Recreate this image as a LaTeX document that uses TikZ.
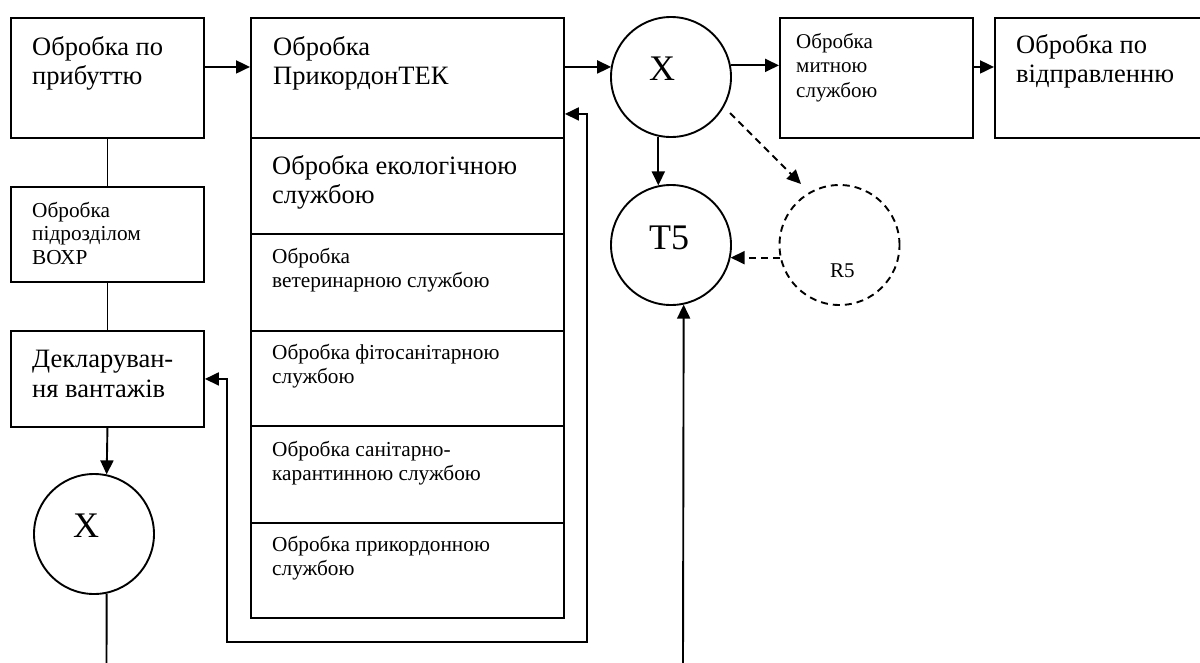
\documentclass[tikz,border=0pt]{standalone}
\usepackage{fontspec}
\setmainfont{Liberation Serif}
\usetikzlibrary{arrows.meta,calc}
\begin{document}
\begin{tikzpicture}[x=1pt,y=-1pt,
  box/.style={draw, line width=1.9pt, rectangle, inner sep=0pt, anchor=north west},
  circ/.style={draw, line width=1.9pt, circle, minimum size=120pt, inner sep=0pt},
  big/.style={anchor=base west, inner sep=0pt, align=left, font=\fontsize{26.5}{29}\selectfont},
  small/.style={anchor=base west, inner sep=0pt, align=left, font=\fontsize{21.3}{24}\selectfont},
  sym/.style={anchor=base west, inner sep=0pt, font=\fontsize{36}{40}\selectfont},
  plain/.style={line width=1.9pt},
  conn/.style={line width=1.9pt, -{Triangle[length=14pt,width=13pt]}},
  dconn/.style={line width=1.9pt, dash pattern=on 7pt off 5pt, -{Triangle[length=14pt,width=13pt]}},
  connboth/.style={line width=1.9pt, {Triangle[length=14pt,width=13pt]}-{Triangle[length=14pt,width=13pt]}},
]
\useasboundingbox (0,0) rectangle (1200,662);

% boxes
\node[box, minimum width=193pt, minimum height=120pt] (b1) at (10,17) {};
\node[box, minimum width=193pt, minimum height=95pt] (vokhr) at (10,186) {};
\node[box, minimum width=193pt, minimum height=96pt] (dekl) at (10,330) {};
\node[box, minimum width=313pt, minimum height=120pt] (prik) at (250,17) {};
\node[box, minimum width=313pt, minimum height=96pt] (ekol) at (250,137) {};
\node[box, minimum width=313pt, minimum height=97pt] (veter) at (250,233) {};
\node[box, minimum width=313pt, minimum height=95pt] (fito) at (250,330) {};
\node[box, minimum width=313pt, minimum height=97pt] (sanit) at (250,425) {};
\node[box, minimum width=313pt, minimum height=95pt] (prykord) at (250,522) {};
\node[box, minimum width=193pt, minimum height=120pt] (mytna) at (779,17) {};
\node[box, minimum width=216pt, minimum height=120pt] (vidpr) at (994,17) {};

% circles
\node[circ] (X2) at (671,77) {};
\node[circ] (T5) at (671,245) {};
\node[circ, dash pattern=on 7pt off 5pt] (R5) at (839.5,245) {};
\node[circ] (X3) at (94,534) {};

% texts (positions = baseline of last line)
\node[big] (tb1) at (32,84) {Обробка по\\прибуттю};
\node[big] (tprik) at (273,84) {Обробка\\ПрикордонТЕК};
\node[big] (tekol) at (272,203) {Обробка екологічною\\службою};
\node[small] (tveter) at (272,287) {Обробка\\ветеринарною службою};
\node[small] (tfito) at (272,383) {Обробка фітосанітарною\\службою};
\node[small] (tsanit) at (272,480) {Обробка санітарно-\\карантинною службою};
\node[small] (tprykord) at (272,575) {Обробка прикордонною\\службою};
\node[small, font=\fontsize{21.3}{23.5}\selectfont] (tvokhr) at (32,264) {Обробка\\підрозділом\\ВОХР};
\node[big, font=\fontsize{26.5}{30}\selectfont] (tdekl) at (32,397) {Декларуван-\\ня вантажів};
\node[small, font=\fontsize{21}{24.5}\selectfont] (tmytna) at (796,97) {Обробка\\митною\\службою};
\node[big] (tvidpr) at (1016,82) {Обробка по\\відправленню};
\node[sym] (tX2) at (649,80) {X};
\node[sym] (tT5) at (649,249) {T5};
\node[sym] (tX3) at (73,537) {X};
\node[anchor=base west, inner sep=0pt, font=\fontsize{21}{24}\selectfont] (tR5) at (830,277) {R5};

% free ends
\coordinate (bot1) at (106.5,665);
\coordinate (bot2) at (683,665);
\coordinate (dstart) at (730,113);
\coordinate (dend) at (801,184);
\coordinate (loopBL) at (227,642);
\coordinate (loopBR) at (587,642);

% connectors
\draw[plain] (b1.south) -- (vokhr.north);
\draw[plain] (vokhr.south) -- (dekl.north);
\draw[conn] (dekl.south) -- (X3.78);
\draw[plain] (X3.-78) -- (bot1);
\draw[conn] ([yshift=11pt]b1.east) -- ([yshift=11pt]prik.west);
\draw[conn] ([yshift=11pt]prik.east) -- ([yshift=11pt]prik.east -| X2.169);
\draw[conn] (X2.11) -- (X2.11 -| mytna.west);
\draw[conn] ([yshift=11pt]mytna.east) -- ([yshift=11pt]vidpr.west);
\draw[conn] (X2.258) -- (T5.102);
\draw[conn] (bot2) -- (T5.282);
\draw[dconn] (R5.192) -- (T5.-12);
\draw[dconn] (dstart) -- (dend);
\draw[connboth] (dekl.east) -| (loopBL) -- (loopBR) |- ([yshift=-36pt]prik.east);
\end{tikzpicture}
\end{document}
